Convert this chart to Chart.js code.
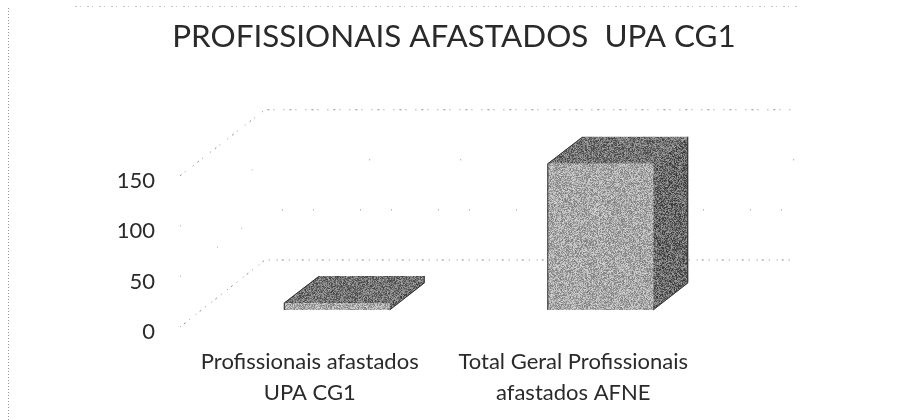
<!DOCTYPE html>
<html>
<head>
<meta charset="utf-8">
<style>
  html, body { margin: 0; padding: 0; background: #fff; }
  canvas { display: block; }
</style>
<script src="https://cdn.jsdelivr.net/npm/chart.js@4"></script>
</head>
<body>
<canvas id="chart" width="908" height="420"></canvas>
<script>
const titleText = 'PROFISSIONAIS AFASTADOS  UPA CG1';
const categories = [['Profissionais afastados', 'UPA CG1'], ['Total Geral Profissionais', 'afastados AFNE']];
const afastados = [7, 146];
const tickValues = [0, 50, 100, 150];
const topValue = 200;

const fontName = 'Lato, "Open Sans", sans-serif';
const textColor = '#2a2a2a';
const depthX = 35;
const depthY = 27;
// dash of each grid line, the scan lost most of the middle ones
const gridDashes = [[1, 4, 2, 5, 1, 7], [1, 46, 1, 30], [1, 90, 1, 120], [2, 4, 1, 9, 1, 5]];

// scanned halftone look for the bar faces
function stipple(mean, spread) {
    const c = document.createElement('canvas');
    c.width = c.height = 128;
    const g = c.getContext('2d');
    const img = g.createImageData(128, 128);
    for (let y = 0; y < 128; y++) {
        for (let x = 0; x < 128; x++) {
            const h = Math.sin(x * 12.9898 + y * 78.233) * 43758.5453;
            const v = mean + (h - Math.floor(h) - 0.5) * 2 * spread;
            const i = (y * 128 + x) * 4;
            img.data[i] = img.data[i + 1] = img.data[i + 2] = v;
            img.data[i + 3] = 255;
        }
    }
    g.putImageData(img, 0, 0);
    return g.createPattern(c, 'repeat');
}

const frontFill = stipple(168, 45);
const topFill = stipple(115, 50);
const sideFill = stipple(105, 55);

function face(ctx, pts, fill) {
    ctx.beginPath();
    pts.forEach((p, i) => i ? ctx.lineTo(p[0], p[1]) : ctx.moveTo(p[0], p[1]));
    ctx.closePath();
    ctx.fillStyle = fill;
    ctx.fill();
}

const box3d = {
    id: 'box3d',
    beforeDatasetsDraw(chart) {
        const ctx = chart.ctx;
        const y = chart.scales.y;
        const front = chart.scales.yLabels;
        const area = chart.chartArea;
        ctx.save();
        ctx.strokeStyle = '#8c8c8c';
        ctx.lineWidth = 1;
        tickValues.forEach((v, i) => {
            const backY = y.getPixelForValue(v) - 50;
            ctx.setLineDash(gridDashes[i]);
            ctx.beginPath();
            ctx.moveTo(area.left - 25, front.getPixelForValue(v) - 5);
            ctx.lineTo(area.left + 60, backY);
            ctx.lineTo(area.right + 63, backY);
            ctx.stroke();
        });
        // scan edges of the page
        ctx.setLineDash([1, 2]);
        ctx.strokeStyle = '#9a9a9a';
        ctx.beginPath();
        ctx.moveTo(8.5, 8);
        ctx.lineTo(8.5, 420);
        ctx.stroke();
        ctx.setLineDash([2, 3, 1, 6]);
        ctx.strokeStyle = '#c4c4c4';
        ctx.beginPath();
        ctx.moveTo(75, 6.5);
        ctx.lineTo(800, 6.5);
        ctx.stroke();
        ctx.restore();
    },
    afterDatasetsDraw(chart) {
        const ctx = chart.ctx;
        ctx.save();
        chart.getDatasetMeta(0).data.forEach(bar => {
            const l = bar.x - bar.width / 2;
            const r = bar.x + bar.width / 2;
            face(ctx, [[l, bar.y], [r, bar.y], [r + depthX, bar.y - depthY], [l + depthX, bar.y - depthY]], topFill);
            face(ctx, [[r, bar.y], [r + depthX, bar.y - depthY], [r + depthX, bar.base - depthY], [r, bar.base]], sideFill);
            ctx.strokeStyle = '#333';
            ctx.lineWidth = 1;
            ctx.beginPath();
            ctx.moveTo(l + 0.5, bar.base);
            ctx.lineTo(l + 0.5, bar.y);
            ctx.lineTo(l + depthX, bar.y - depthY + 0.5);
            ctx.moveTo(r + depthX - 0.5, bar.y - depthY);
            ctx.lineTo(r + depthX - 0.5, bar.base - depthY);
            ctx.lineTo(r, bar.base);
            ctx.stroke();
        });
        ctx.restore();
    }
};

new Chart(document.getElementById('chart').getContext('2d'), {
    type: 'bar',
    data: {
        labels: categories,
        datasets: [{
            label: 'Profissionais afastados',
            data: afastados,
            backgroundColor: frontFill,
            borderWidth: 0,
            barPercentage: 0.402,
            categoryPercentage: 1
        }]
    },
    plugins: [box3d],
    options: {
        responsive: false,
        animation: false,
        layout: { padding: { top: 18 } },
        plugins: {
            legend: { display: false },
            tooltip: { enabled: false },
            title: {
                display: true,
                text: titleText,
                color: textColor,
                font: { family: fontName, size: 31.4, weight: 'normal' },
                padding: { top: 0, bottom: 54 }
            }
        },
        scales: {
            x: {
                grid: { display: false },
                border: { display: false },
                ticks: {
                    color: textColor,
                    font: { family: fontName, size: 22, lineHeight: 1.41 },
                    labelOffset: -27,
                    maxRotation: 0,
                    padding: 6
                },
                afterFit(scale) { scale.height = 88; }
            },
            y: {
                display: false,
                min: -22,
                max: topValue
            },
            yLabels: {
                axis: 'y',
                position: 'left',
                min: 0,
                max: 220.5,
                grid: { display: false },
                border: { display: false },
                ticks: {
                    stepSize: 50,
                    color: textColor,
                    font: { family: fontName, size: 22 },
                    padding: 42,
                    callback: v => tickValues.includes(v) ? v : ''
                },
                afterFit(scale) { scale.width = 205; }
            },
            // empty axis that keeps the plot off the right side
            yRight: {
                axis: 'y',
                position: 'right',
                grid: { display: false },
                border: { display: false },
                ticks: { display: false },
                afterFit(scale) { scale.width = 176; }
            }
        }
    }
});
</script>
</body>
</html>
